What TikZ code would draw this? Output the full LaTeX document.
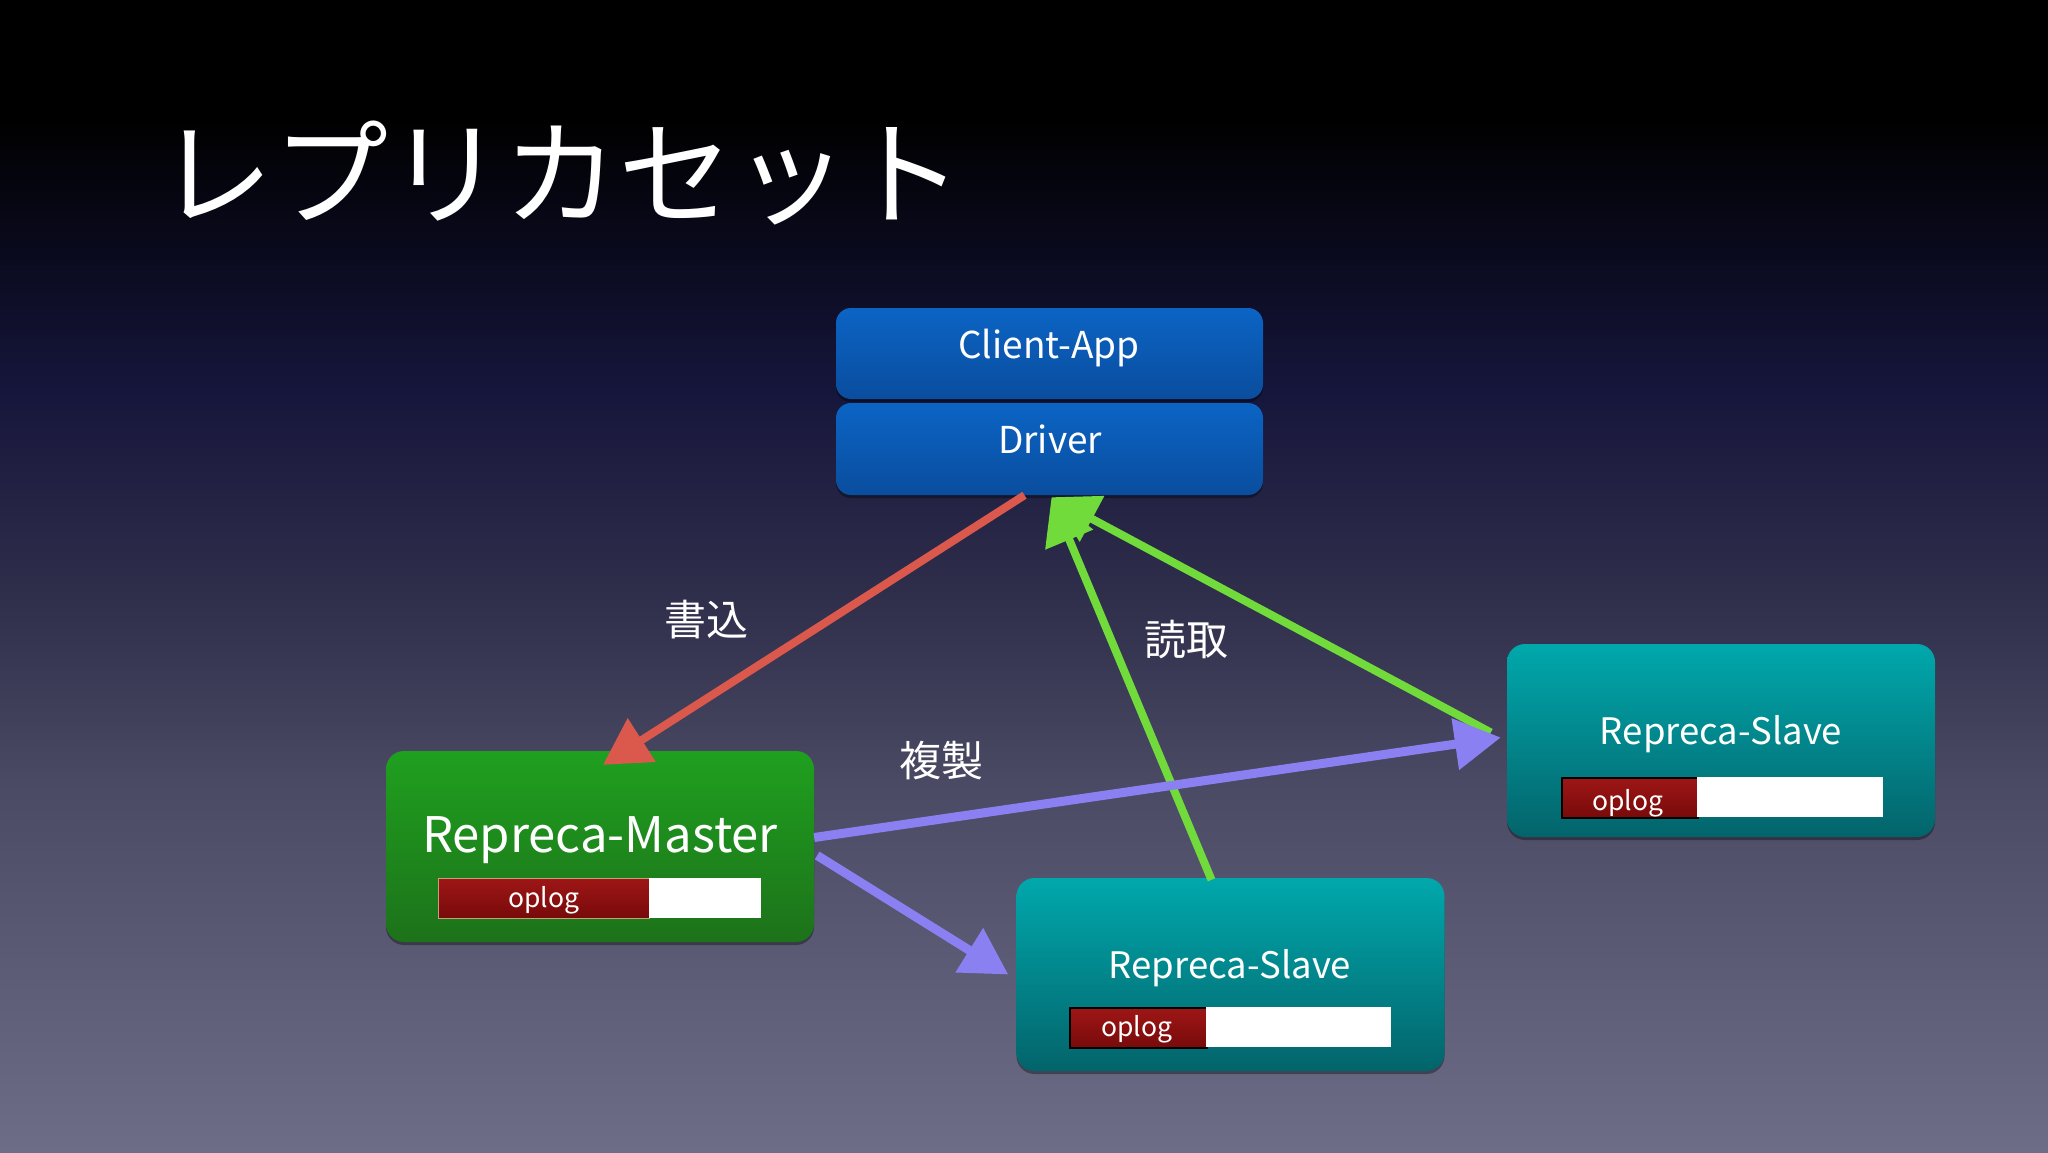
\documentclass[tikz,border=0pt]{standalone}
\usepackage{fontspec}
\setmainfont{Noto Sans CJK JP}
\usetikzlibrary{arrows.meta,shadows,calc}
\definecolor{bgA}{HTML}{6E6D87}
\definecolor{bgB}{HTML}{4B4A64}
\definecolor{bgC}{HTML}{2E2D4A}
\definecolor{bgD}{HTML}{16163C}
\definecolor{bgE}{HTML}{0A0A1E}
\definecolor{bluetop}{HTML}{0B64C4}
\definecolor{bluebot}{HTML}{0A4D9E}
\definecolor{greentop}{HTML}{1FA01F}
\definecolor{greenbot}{HTML}{1D721A}
\definecolor{tealtop}{HTML}{00A8AC}
\definecolor{tealbot}{HTML}{03646B}
\definecolor{logtop}{HTML}{9E1616}
\definecolor{logbot}{HTML}{780A0A}
\definecolor{logedge}{HTML}{C8A078}
\definecolor{redc}{HTML}{DA594C}
\definecolor{greenc}{HTML}{72DB3C}
\definecolor{purplec}{HTML}{8B80F2}
\pgfdeclareverticalshading{bgshade}{100bp}{color(0bp)=(bgA); color(25bp)=(bgA); color(41bp)=(bgB); color(49.5bp)=(bgC); color(58bp)=(bgD); color(64bp)=(bgE); color(70bp)=(black); color(100bp)=(black)}
\tikzset{
  boxshadow/.style={drop shadow={shadow xshift=0pt, shadow yshift=-3pt, opacity=0.35, fill=black}},
  bluebox/.style={rounded corners=15pt, minimum width=427pt, top color=bluetop, bottom color=bluebot, inner sep=0pt, boxshadow},
  masterbox/.style={rounded corners=18pt, minimum width=428pt, minimum height=191pt, top color=greentop, bottom color=greenbot, inner sep=0pt, boxshadow},
  slavebox/.style={rounded corners=18pt, minimum width=428pt, minimum height=193pt, top color=tealtop, bottom color=tealbot, inner sep=0pt, boxshadow},
  logred/.style={anchor=north west, minimum height=40pt, inner sep=0pt, top color=logtop, bottom color=logbot},
  logwhite/.style={anchor=north west, minimum height=40pt, inner sep=0pt, fill=white},
  txt/.style={text=white, inner sep=0pt, anchor=base},
  boxtxt/.style={txt, font=\fontsize{37}{44}\selectfont},
  bigtxt/.style={txt, font=\fontsize{49}{58}\selectfont},
  slavetxt/.style={txt, font=\fontsize{36.5}{44}\selectfont},
  logtxt/.style={txt, font=\fontsize{26.5}{30}\selectfont},
  jplabel/.style={text=white, inner sep=0pt, font=\fontsize{42}{48}\selectfont},
  wline/.style={draw=redc, line width=8pt, -{Triangle[length=46pt,width=50pt]}},
  rline/.style={draw=greenc, line width=8pt, -{Triangle[length=46pt,width=50pt]}},
  cline/.style={draw=purplec, line width=9pt, -{Triangle[length=46pt,width=50pt]}}
}
\begin{document}
\begin{tikzpicture}[x=1pt,y=-1pt]
\useasboundingbox (0,0) rectangle (2048,1152);
\shade[shading=bgshade] (0,0) rectangle (2048,1152);

% title
\node[text=white, inner sep=0pt, anchor=west, font=\fontsize{115}{130}\selectfont] (title) at (158,173) {レプリカセット};

% client
\node[bluebox, minimum height=91pt] (client) at (1049.5,353.5) {};
\node[boxtxt] (clienttxt) at (1049,358) {Client-App};
\node[bluebox, minimum height=92pt] (driver) at (1049.5,449) {};
\node[boxtxt] (drivertxt) at (1050,453) {Driver};

% master
\node[masterbox] (master) at (600,846.5) {};
\node[bigtxt] (mastertxt) at (600,852) {Repreca-Master};
\node[logred, minimum width=211pt, draw=logedge, line width=1pt] (mlogr) at (438,878) {};
\node[logwhite, minimum width=112pt] (mlogw) at (649,878) {};
\node[logtxt] (mlogtxt) at (544,907) {oplog};

% slave 1 (bottom)
\node[slavebox] (s1) at (1230.5,974.5) {};
\node[slavetxt] (s1txt) at (1230,978) {Repreca-Slave};
\node[logred, minimum width=137pt, draw=black, line width=2pt] (s1logr) at (1069,1007) {};
\node[logwhite, minimum width=185pt] (s1logw) at (1206,1007) {};
\node[logtxt] (s1logtxt) at (1137,1036) {oplog};

% slave 2 (right)
\node[slavebox] (s2) at (1721,740.5) {};
\node[slavetxt] (s2txt) at (1721,744) {Repreca-Slave};
\node[logred, minimum width=136pt, draw=black, line width=2pt] (s2logr) at (1561,777) {};
\node[logwhite, minimum width=186pt] (s2logw) at (1697,777) {};
\node[logtxt] (s2logtxt) at (1628,810) {oplog};

% labels
\node[jplabel] (lwrite) at (706,620) {書込};
\node[jplabel] (lread) at (1186,640) {読取};
\node[jplabel] (lcopy) at (941,761) {複製};

% arrows
\draw[wline] ($(driver.south)+(-25,0)$) -- ($(master.north)+(3,14)$);
\draw[rline] ($(s1.north)+(-19,2)$) -- ($(driver.south)+(2,2)$);
\draw[rline] ($(s2.west)+(-16,-8)$) -- ($(driver.south)+(2,2)$);
\draw[cline] ($(master.east)+(0,-9)$) -- ($(s2.west)+(-6,-3)$);
\draw[cline] ($(master.east)+(3,9)$) -- ($(s1.west)+(-8,0)$);
\end{tikzpicture}
\end{document}
